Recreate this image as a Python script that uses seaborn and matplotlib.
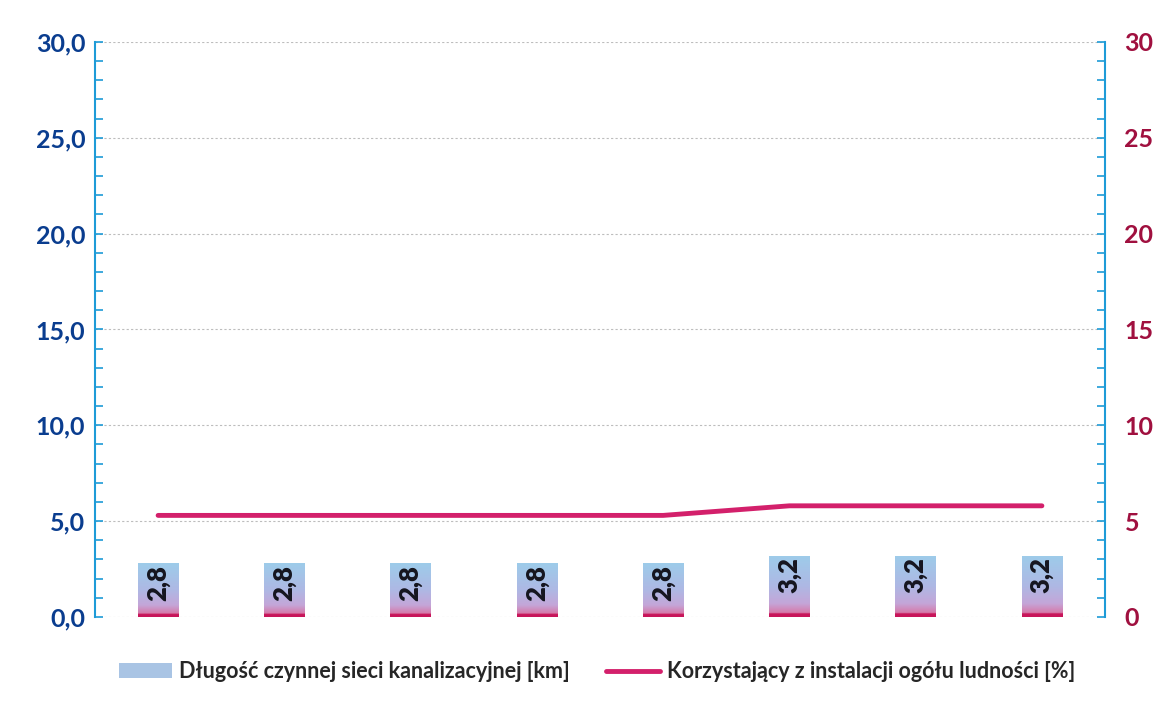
import numpy as np
import pandas as pd
import matplotlib
matplotlib.use('Agg')
import matplotlib.pyplot as plt
import seaborn as sns
from matplotlib.colors import LinearSegmentedColormap
from matplotlib.patches import Patch
from matplotlib.lines import Line2D
from matplotlib.ticker import MultipleLocator, FuncFormatter

# dane
okresy = ['1', '2', '3', '4', '5', '6', '7', '8']
dlugosc_sieci = [2.8, 2.8, 2.8, 2.8, 2.8, 3.2, 3.2, 3.2]          # km
korzystajacy = [5.3, 5.3, 5.3, 5.3, 5.3, 5.8, 5.8, 5.8]           # %
etykieta_slupki = 'Długość czynnej sieci kanalizacyjnej [km]'
etykieta_linia = 'Korzystający z instalacji ogółu ludności [%]'

df = pd.DataFrame({'okres': okresy, 'km': dlugosc_sieci, 'proc': korzystajacy})
df['poz'] = np.arange(len(df))

sns.set_theme(style='white')
plt.rcParams['font.family'] = ['Lato', 'DejaVu Sans']

niebieski_os = '#1E9BD7'
granat = '#0A3D8F'
bordo = '#A0103F'
rozowy = '#D3206B'

fig = plt.figure(figsize=(11.61, 7.02), dpi=100)
ax = fig.add_axes([0.0818, 0.1211, 0.87, 0.8191])

sns.barplot(data=df, x='okres', y='km', ax=ax, width=0.32, color='#A9C4E4', saturation=1)

# gradient na slupkach
cmap = LinearSegmentedColormap.from_list('slupek', [
    (0.0, '#C8155A'), (0.05, '#C8155A'), (0.07, '#D67AAA'),
    (0.22, '#C4A6D8'), (0.5, '#AEB8E4'), (1.0, '#9DCCEA')])
grad = np.linspace(0, 1, 256).reshape(-1, 1)
for bar in ax.patches:
    x0, w, h = bar.get_x(), bar.get_width(), bar.get_height()
    im = ax.imshow(grad, extent=[x0, x0 + w, 0, h], origin='lower', cmap=cmap,
                   aspect='auto', zorder=2)
    im.set_clip_path(bar)
    bar.set_facecolor('none')
    bar.set_edgecolor('none')

for i, v in enumerate(dlugosc_sieci):
    ax.text(i, v - 0.1, f'{v:.1f}'.replace('.', ','), rotation=90, ha='center', va='top',
            fontsize=18.5, fontweight='heavy', color='#15151f', zorder=4)

ax.set_xlim(-0.5, len(okresy) - 0.5)
ax.set_ylim(0, 30)
ax.yaxis.set_major_locator(MultipleLocator(5))
ax.yaxis.set_minor_locator(MultipleLocator(1))
ax.yaxis.set_major_formatter(FuncFormatter(lambda v, p: f'{v:.1f}'.replace('.', ',')))
ax.grid(axis='y', which='major', color='#BDBDBD', linestyle=(0, (2, 2)), linewidth=0.8)
ax.set_axisbelow(True)
ax.set_xticks([])
ax.set_xlabel('')
ax.set_ylabel('')
ax.tick_params(axis='y', which='both', direction='in', color=niebieski_os, width=1.2,
               length=6, left=True, labelcolor=granat, labelsize=18, pad=7)
for lab in ax.get_yticklabels():
    lab.set_fontweight('bold')
for s in ['top', 'bottom', 'right']:
    ax.spines[s].set_visible(False)
ax.spines['left'].set_color(niebieski_os)
ax.spines['left'].set_linewidth(1.5)

ax2 = ax.twinx()
sns.lineplot(data=df, x='poz', y='proc', ax=ax2, color=rozowy, linewidth=3.5, zorder=5)
ax2.set_ylim(0, 30)
ax2.set_xlim(-0.5, len(okresy) - 0.5)
ax2.yaxis.set_major_locator(MultipleLocator(5))
ax2.yaxis.set_minor_locator(MultipleLocator(1))
ax2.tick_params(axis='y', which='both', direction='in', color=niebieski_os, width=1.2,
                length=6, right=True, labelcolor=bordo, labelsize=18, pad=14)
for lab in ax2.get_yticklabels():
    lab.set_fontweight('bold')
ax2.set_xlabel('')
ax2.set_ylabel('')
ax2.grid(False)
for s in ['top', 'bottom', 'left']:
    ax2.spines[s].set_visible(False)
ax2.spines['right'].set_color(niebieski_os)
ax2.spines['right'].set_linewidth(1.5)

uchwyty = [Patch(facecolor='#A9C4E4', edgecolor='none'),
           Line2D([0], [0], color=rozowy, linewidth=3.5)]
fig.legend(uchwyty, [etykieta_slupki, etykieta_linia], loc='center', ncol=2,
           bbox_to_anchor=(0.514, 0.043), frameon=False,
           handlelength=2.5, columnspacing=1.7, handletextpad=0.3,
           prop={'weight': 'bold', 'size': 15.5})

fig.savefig('out.png', dpi=100)
